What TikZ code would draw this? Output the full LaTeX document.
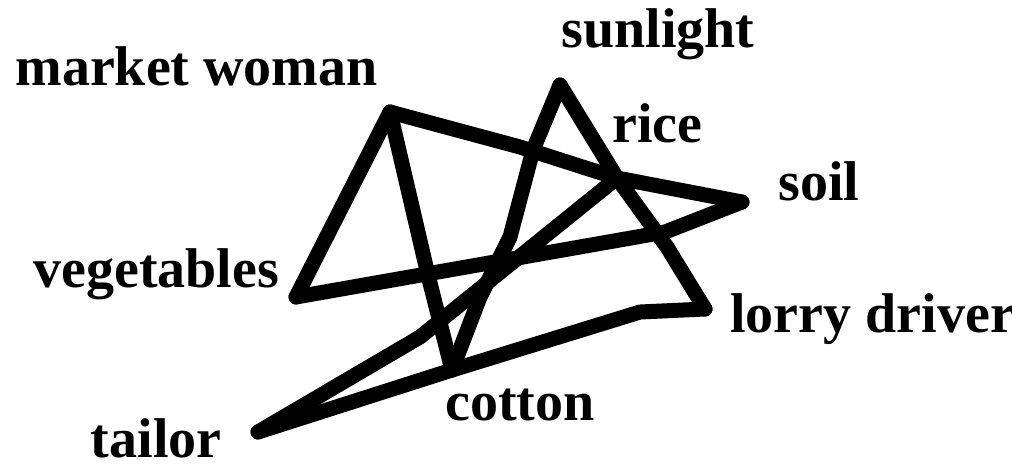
\documentclass[tikz,border=0pt]{standalone}
\usepackage{fontspec}
\setmainfont{Liberation Serif}
\usepackage{tikz}
\tikzset{
  lbl/.style={font=\fontsize{28}{30}\selectfont\bfseries, inner sep=0pt},
  web/.style={line width=7.5pt, line join=round, line cap=round},
}

\begin{document}
\begin{tikzpicture}[x=0.5pt, y=-0.5pt]
\useasboundingbox (0,0) rectangle (1012,467);
% corners of the web
\coordinate (mw) at (390,112);
\coordinate (sun) at (560,85);
\coordinate (rice) at (617,178);
\coordinate (soil) at (742,202);
\coordinate (veg) at (296,297);
\coordinate (lorry) at (705,309);
\coordinate (cot) at (452,370);
\coordinate (tail) at (258,432);
% bends along the strands
\coordinate (mwr) at (520,147);
\coordinate (soilv) at (665,232);
\coordinate (mwc) at (428,275);
\coordinate (sunc1) at (533,150);
\coordinate (sunc2) at (510,237);
\coordinate (sunc3) at (480,297);
\coordinate (ricel) at (667,247);
\coordinate (lorc) at (640,312);
\coordinate (tailr) at (420,337);
% labels
\node[lbl, anchor=base west] (mwlab) at (15,85) {market woman};
\node[lbl, anchor=base west] (sunlab) at (561,47) {sunlight};
\node[lbl, anchor=base west] (ricelab) at (612,142) {rice};
\node[lbl, anchor=base west] (soillab) at (778,200) {soil};
\node[lbl, anchor=base west] (veglab) at (33,287) {vegetables};
\node[lbl, anchor=base west] (lorlab) at (730,332) {lorry driver};
\node[lbl, anchor=base west] (cotlab) at (445,420) {cotton};
\node[lbl, anchor=base east] (taillab) at (222,457) {tailor};
% the strands
\draw[web] (veg) -- (mw) -- (mwr) -- (rice) -- (soil);
\draw[web] (soil) -- (soilv) -- (veg);
\draw[web] (mw) -- (mwc) -- (cot);
\draw[web] (sun) -- (rice) -- (ricel) -- (lorry);
\draw[web] (sun) -- (sunc1) -- (sunc2) -- (sunc3) -- (cot);
\draw[web] (lorry) -- (lorc) -- (cot) -- (tail);
\draw[web] (tail) -- (tailr) -- (rice);
\end{tikzpicture}
\end{document}
